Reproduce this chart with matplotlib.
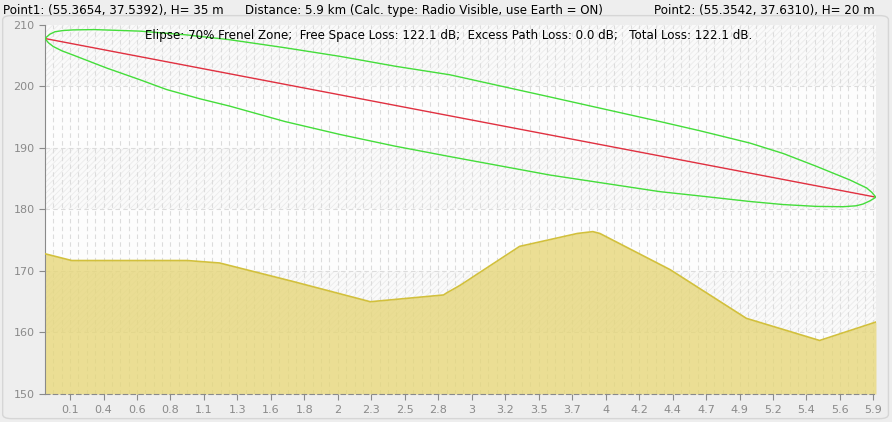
import matplotlib
matplotlib.use('Agg')
import matplotlib.pyplot as plt
from matplotlib.patches import FancyBboxPatch

# terrain profile (km, m)
terrain_km = [0.0, 0.19, 1.01, 1.24, 1.76, 2.31, 2.83, 2.85, 2.95, 3.37, 3.78, 3.89, 3.94,
              4.44, 4.98, 5.50, 5.90]
terrain_h = [172.8, 171.7, 171.7, 171.3, 168.3, 165.0, 166.1, 166.4, 167.7, 174.0, 176.1,
             176.4, 176.1, 170.2, 162.3, 158.7, 161.7]

# line of sight
los_km = [0.0, 5.9]
los_h = [207.8, 182.0]

# 70% Fresnel zone ellipse
upper_km = [0.0, 0.035, 0.071, 0.13, 0.201, 0.35, 0.674, 1.0, 1.313, 1.704, 2.094, 2.485, 2.875,
            3.585, 4.366, 4.65, 5.005, 5.242, 5.479, 5.597, 5.715, 5.834, 5.87, 5.9]
upper_h = [207.8, 208.5, 208.9, 209.1, 209.2, 209.25, 209.0, 208.4, 207.6, 206.3, 204.9, 203.3,
           201.9, 198.3, 194.3, 192.8, 190.8, 189.1, 187.0, 185.9, 184.8, 183.5, 182.8, 182.0]
lower_km = [0.0, 0.025, 0.059, 0.12, 0.201, 0.438, 0.674, 0.864, 1.10, 1.313, 1.704, 2.094, 2.485,
            2.875, 3.585, 4.366, 4.65, 5.005, 5.242, 5.479, 5.668, 5.76, 5.810, 5.857, 5.9]
lower_h = [207.8, 207.1, 206.5, 205.8, 205.1, 203.0, 201.1, 199.5, 198.0, 196.8, 194.3, 192.2,
           190.3, 188.6, 185.6, 182.9, 182.2, 181.3, 180.8, 180.5, 180.45, 180.6, 180.9, 181.4, 182.0]

xtick_labels = ['0.1', '0.4', '0.6', '0.8', '1.1', '1.3', '1.6', '1.8', '2', '2.3', '2.5', '2.8',
                '3', '3.2', '3.5', '3.7', '4', '4.2', '4.4', '4.7', '4.9', '5.2', '5.4', '5.6', '5.9']
yticks = [150, 160, 170, 180, 190, 200, 210]

plt.rcParams['hatch.linewidth'] = 0.6
plt.rcParams['hatch.color'] = '#ebebeb'

fig = plt.figure(figsize=(8.92, 4.22), dpi=100, facecolor='#eeeeee')
fig.patches.append(FancyBboxPatch((0.003, 0.008), 0.993, 0.955, boxstyle='round,pad=0,rounding_size=0.01',
                                  transform=fig.transFigure, facecolor='none', edgecolor='#d6d6d6', lw=1))
ax = fig.add_axes([0.0504, 0.0664, 0.9316, 0.8744])
ax.set_facecolor('#fdfdfd')
ax.set_xlim(0, 5.9)
ax.set_ylim(150, 210)

# alternating hatched bands
for i, y0 in enumerate(yticks[:-1]):
    if i % 2 == 1:
        ax.axhspan(y0, y0 + 10, facecolor='#fafafa', edgecolor='#ebebeb', hatch='//////', lw=0, zorder=0)

# grid
step = 5.9 / 99.3
for k in range(1, 100):
    ax.axvline(k * step, color='#dcdcdc', lw=0.8, ls=(0, (4, 3)), zorder=1)
for y in yticks[1:-1]:
    ax.axhline(y, color='#dcdcdc', lw=0.8, ls=(0, (4, 3)), zorder=1)

ax.fill_between(terrain_km, terrain_h, 150, color='#e6d677', alpha=0.78, lw=0, zorder=2)
ax.plot(terrain_km, terrain_h, color='#d2c03c', lw=1.2, zorder=3)
ax.plot(los_km, los_h, color='#e03040', lw=1.0, zorder=4)
ax.plot(upper_km, upper_h, color='#44dd3a', lw=1.0, zorder=4)
ax.plot(lower_km, lower_h, color='#44dd3a', lw=1.0, zorder=4)

xticks = [step * (3 + 4 * j) for j in range(len(xtick_labels))]
ax.set_xticks(xticks)
ax.set_xticklabels(xtick_labels)
ax.set_yticks(yticks)
ax.tick_params(axis='both', colors='#8a8a8a', labelsize=8, length=4, width=0.8, labelcolor='#8a8a8a')
ax.tick_params(axis='x', pad=4)
for s in ['top', 'right']:
    ax.spines[s].set_visible(False)
ax.spines['left'].set_color('#8a8a8a')
ax.spines['bottom'].set_color('#8a8a8a')
ax.spines['bottom'].set_linestyle((0, (4, 3)))
ax.spines['bottom'].set_linewidth(0.8)

fs = 8.6
fig.text(0.003, 0.976, 'Point1: (55.3654, 37.5392), H= 35 m', fontsize=fs, va='center', ha='left')
fig.text(0.275, 0.976, 'Distance: 5.9 km (Calc. type: Radio Visible, use Earth = ON)', fontsize=fs,
         va='center', ha='left')
fig.text(0.981, 0.976, 'Point2: (55.3542, 37.6310), H= 20 m', fontsize=fs, va='center', ha='right')
fig.text(0.163, 0.915, 'Elipse: 70% Frenel Zone;  Free Space Loss: 122.1 dB;  Excess Path Loss: 0.0 dB;'
         '   Total Loss: 122.1 dB.', fontsize=fs, va='center', ha='left', zorder=10)

fig.savefig('out.png', dpi=100, facecolor=fig.get_facecolor())
